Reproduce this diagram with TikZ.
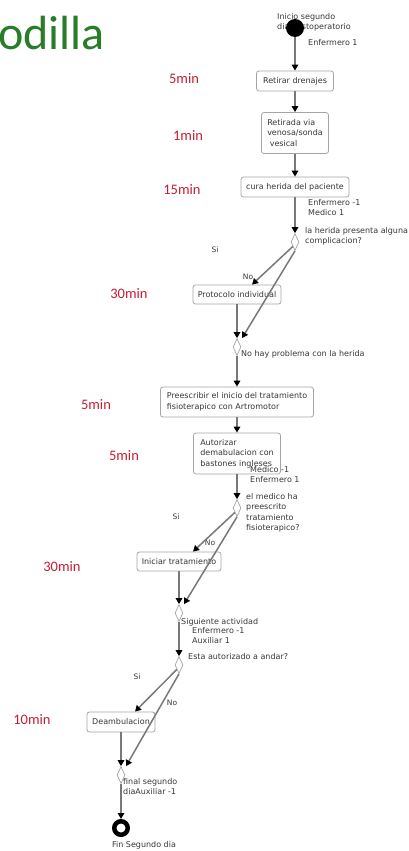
\documentclass[tikz,border=0pt]{standalone}
\usepackage{fontspec}
\setmainfont{DejaVu Sans}
\newfontfamily\timefont{Carlito}
\usetikzlibrary{arrows.meta,shapes.geometric}
\definecolor{timered}{RGB}{200,30,50}
\definecolor{titlegreen}{RGB}{40,125,40}
\definecolor{edgegray}{RGB}{120,120,120}
\definecolor{boxgray}{RGB}{165,165,165}
\definecolor{txtgray}{RGB}{55,55,55}

\begin{document}
\begin{tikzpicture}[x=1pt,y=-1pt,
  every node/.style={font=\fontsize{8}{10.5}\selectfont, text=txtgray},
  act/.style={draw=boxgray, fill=white, rounded corners=2.5pt, line width=0.8pt,
              inner sep=0pt, align=left},
  dec/.style={diamond, draw=boxgray, fill=white, line width=0.7pt, inner sep=0pt,
              minimum width=8pt, minimum height=17pt},
  note/.style={align=left, anchor=north west, inner sep=0pt},
  tag/.style={anchor=west, inner sep=0pt},
  guard/.style={inner sep=0pt, font=\fontsize{7.5}{9}\selectfont},
  tm/.style={font=\timefont\fontsize{14.5}{16}\selectfont, text=timered},
  flow/.style={draw=edgegray, line width=1.5pt,
               -{Triangle[width=6.5pt,length=6pt,color=black]}},
  initial/.style={circle, fill=black, inner sep=0pt, minimum size=18pt},
  final/.style={circle, draw=black, fill=white, line width=4.5pt, inner sep=0pt,
                minimum size=13.5pt}
]
\useasboundingbox (0,0) rectangle (409,851);

% title
\node[anchor=base west, inner sep=0pt, text=titlegreen,
      font=\timefont\fontsize{48}{52}\selectfont] (title) at (-2,49) {odilla};

% durations
\node[tm] (t1) at (184,79) {5min};
\node[tm] (t2) at (188,136) {1min};
\node[tm] (t3) at (182,190) {15min};
\node[tm] (t4) at (129,294) {30min};
\node[tm] (t5) at (96,405) {5min};
\node[tm] (t6) at (124,456) {5min};
\node[tm] (t7) at (62,567) {30min};
\node[tm] (t8) at (32,720) {10min};

% start label sits under the initial node
\node[note] (lstart) at (277,13) {Inicio segundo\\dia postoperatorio};

% start / end
\node[initial] (start) at (295,28) {};
\node[final] (end) at (121,828) {};

% activities
\node[act, minimum width=77pt, minimum height=20pt] (b1) at (295,81) {Retirar drenajes};
\node[act, minimum width=67pt, minimum height=41pt] (b2) at (295,133) {Retirada via\\venosa/sonda\\\ vesical};
\node[act, minimum width=108pt, minimum height=20pt] (b3) at (295,187) {cura herida del paciente};
\node[act, minimum width=88pt, minimum height=19pt] (b4) at (237,294.5) {Protocolo individual};
\node[act, minimum width=153pt, minimum height=30pt] (b5) at (237,402) {Preescribir el inicio del tratamiento\\fisioterapico con Artromotor};
\node[act, minimum width=87pt, minimum height=41pt] (b6) at (237,453.5) {Autorizar\\demabulacion con\\bastones ingleses};
\node[act, minimum width=84pt, minimum height=19pt] (b7) at (179,561.5) {Iniciar tratamiento};
\node[act, minimum width=68pt, minimum height=20pt] (b8) at (121,722) {Deambulacion};

% decisions
\node[dec] (d1) at (295,242) {};
\node[dec] (d2) at (237,347) {};
\node[dec] (d3) at (237,508) {};
\node[dec] (d4) at (179,613) {};
\node[dec] (d5) at (179,665) {};
\node[dec] (d6) at (121,775) {};

% annotations
\node[tag] (r1) at (308,43) {Enfermero 1};
\node[note] (r2) at (308,199) {Enfermero -1\\Medico 1};
\node[note] (q1) at (305,227) {la herida presenta alguna\\complicacion?};
\node[tag] (m2) at (241,354) {No hay problema con la herida};
\node[note] (r3) at (250,466) {Medico -1\\Enfermero 1};
\node[note] (q3) at (246,493) {el medico ha\\preescrito\\tratamiento\\fisioterapico?};
\node[tag] (m4) at (181,622) {Siguiente actividad};
\node[note] (r4) at (192,627) {Enfermero -1\\Auxiliar 1};
\node[tag] (q5) at (188,657) {Esta autorizado a andar?};
\node[note] (m6) at (123,778) {final segundo\\diaAuxiliar -1};
\node[inner sep=0pt] (lend) at (144,845) {Fin Segundo dia};

% guards
\node[guard] (si1) at (215,250) {Si};
\node[guard] (no1) at (248,277) {No};
\node[guard] (si3) at (176,517) {Si};
\node[guard] (no3) at (210,543) {No};
\node[guard] (si5) at (137,677) {Si};
\node[guard] (no5) at (172,703) {No};

% flows
\draw[flow] (start.south) -- (b1.north);
\draw[flow] (b1.south) -- (b2.north);
\draw[flow] (b2.south) -- (b3.north);
\draw[flow] (b3.south) -- (d1.north);
\draw[flow] (d1.south west) -- ([xshift=15pt]b4.north);
\draw[flow] (d1.south) -- ([xshift=5pt]d2.north);
\draw[flow] (b4.south) -- (d2.north);
\draw[flow] (d2.south) -- (b5.north);
\draw[flow] (b5.south) -- (b6.north);
\draw[flow] (b6.south) -- (d3.north);
\draw[flow] (d3.south west) -- ([xshift=14pt]b7.north);
\draw[flow] (d3.south) -- ([xshift=5pt]d4.north);
\draw[flow] (b7.south) -- (d4.north);
\draw[flow] (d4.south) -- (d5.north);
\draw[flow] (d5.south west) -- ([xshift=14pt]b8.north);
\draw[flow] (d5.south) -- ([xshift=5pt]d6.north);
\draw[flow] (b8.south) -- (d6.north);
\draw[flow] (d6.south) -- (end.north);
\end{tikzpicture}
\end{document}
